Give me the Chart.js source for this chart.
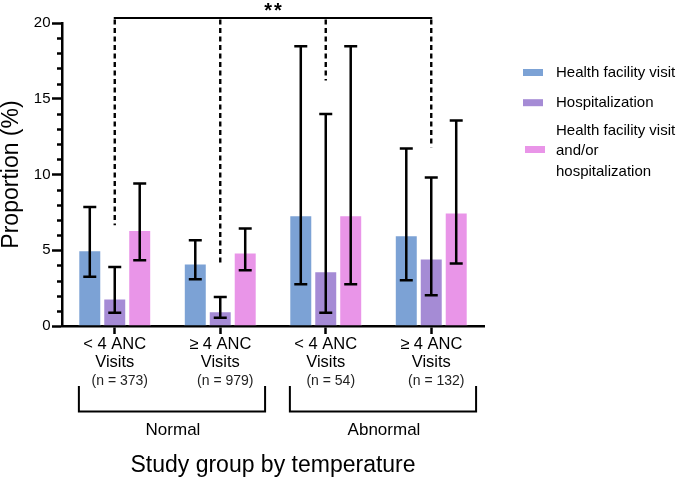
<!DOCTYPE html>
<html>
<head>
<meta charset="utf-8">
<script src="https://cdn.jsdelivr.net/npm/chart.js@4.4.1/dist/chart.umd.min.js"></script>
<style>
  html, body { margin: 0; padding: 0; background: #fff; }
  #wrap { width: 685px; height: 479px; position: relative; }
</style>
</head>
<body>
<div id="wrap"><canvas id="c"></canvas></div>
<script>
// ---- Data ----
const categories = [["< 4 ANC", "Visits"], ["≥ 4 ANC", "Visits"], ["< 4 ANC", "Visits"], ["≥ 4 ANC", "Visits"]];
const sampleSizes = ["(n = 373)", "(n = 979)", "(n = 54)", "(n = 132)"];
const groupNames = ["Normal", "Abnormal"];
const groupMembers = [[0, 1], [2, 3]];
const seriesNames = ["Health facility visit", "Hospitalization", "Health facility visit and/or hospitalization"];
const legendLines = [["Health facility visit"], ["Hospitalization"], ["Health facility visit", "and/or", "hospitalization"]];

const facilityVisit     = [5.0, 4.12, 7.31, 5.99];
const facilityVisitLow  = [3.25, 3.08, 2.75, 3.02];
const facilityVisitHigh = [7.85, 5.66, 18.46, 11.71];

const hospitalization     = [1.81, 0.97, 3.61, 4.45];
const hospitalizationLow  = [0.88, 0.55, 0.88, 2.03];
const hospitalizationHigh = [3.9, 1.91, 14.0, 9.8];

const either     = [6.33, 4.85, 7.31, 7.49];
const eitherLow  = [4.34, 3.68, 2.75, 4.12];
const eitherHigh = [9.4, 6.43, 18.46, 13.56];

const yTicks = [0, 5, 10, 15, 20];
const yMinorStep = 1;
const sigLevel = 20.33;
const sigDropEnds = [6.65, 3.96, 16.2, 11.8];
const sigLabel = "**";
const xTitle = "Study group by temperature";
const yTitle = "Proportion (%)";

const colors = ["#7ca2d5", "#a58bd5", "#e995e8"];

const seriesValues = [facilityVisit, hospitalization, either];
const seriesLow = [facilityVisitLow, hospitalizationLow, eitherLow];
const seriesHigh = [facilityVisitHigh, hospitalizationHigh, eitherHigh];

Chart.defaults.font.family = "'Liberation Sans', Arial, sans-serif";
Chart.defaults.color = "#000";

const extras = {
  id: 'extras',
  afterDatasetsDraw(chart) {
    const ctx = chart.ctx;
    const y = chart.scales.y;
    ctx.save();
    ctx.strokeStyle = '#000';
    ctx.lineWidth = 2.5;
    chart.data.datasets.forEach((ds, di) => {
      const meta = chart.getDatasetMeta(di);
      meta.data.forEach((bar, i) => {
        const x = bar.x;
        const yl = y.getPixelForValue(seriesLow[di][i]);
        const yh = y.getPixelForValue(seriesHigh[di][i]);
        ctx.beginPath();
        ctx.moveTo(x, yl); ctx.lineTo(x, yh);
        ctx.moveTo(x - 6.5, yl); ctx.lineTo(x + 6.5, yl);
        ctx.moveTo(x - 6.5, yh); ctx.lineTo(x + 6.5, yh);
        ctx.stroke();
      });
    });
    ctx.restore();
  },
  afterDraw(chart) {
    const ctx = chart.ctx;
    const xs = chart.scales.x, ys = chart.scales.y;
    const area = chart.chartArea;
    ctx.save();
    // minor y ticks
    ctx.strokeStyle = '#000';
    ctx.lineWidth = 2.5;
    for (let v = ys.min + yMinorStep; v < ys.max; v += yMinorStep) {
      if (yTicks.includes(v)) continue;
      const py = Math.round(ys.getPixelForValue(v)) + 0.5;
      ctx.beginPath(); ctx.moveTo(area.left - 5, py); ctx.lineTo(area.left, py); ctx.stroke();
    }
    // significance bracket
    const sy = ys.getPixelForValue(sigLevel);
    const x0 = xs.getPixelForValue(0), x3 = xs.getPixelForValue(categories.length - 1);
    ctx.lineWidth = 2;
    ctx.beginPath(); ctx.moveTo(x0 - 1, sy); ctx.lineTo(x3 + 1, sy); ctx.stroke();
    ctx.lineWidth = 2.4;
    ctx.setLineDash([5, 3.5]);
    sigDropEnds.forEach((v, i) => {
      const px = xs.getPixelForValue(i);
      ctx.beginPath(); ctx.moveTo(px, sy + 1.5); ctx.lineTo(px, ys.getPixelForValue(v)); ctx.stroke();
    });
    ctx.setLineDash([]);
    ctx.fillStyle = '#000';
    ctx.font = "bold 20px 'Liberation Sans', Arial, sans-serif";
    ctx.textAlign = 'center';
    ctx.textBaseline = 'alphabetic';
    try { ctx.letterSpacing = '2px'; } catch (e) {}
    ctx.fillText(sigLabel, (x0 + x3) / 2 + 1, sy - 1);
    try { ctx.letterSpacing = '0px'; } catch (e) {}
    // sample sizes
    ctx.font = "14px 'Liberation Sans', Arial, sans-serif";
    ctx.fillStyle = '#222';
    ctx.textBaseline = 'middle';
    sampleSizes.forEach((s, i) => {
      ctx.fillText(s, xs.getPixelForValue(i) + 5, area.bottom + 55);
    });
    // group brackets
    const half = (xs.right - xs.left) / categories.length / 2;
    ctx.strokeStyle = '#000';
    ctx.lineWidth = 2;
    ctx.fillStyle = '#000';
    ctx.font = "17px 'Liberation Sans', Arial, sans-serif";
    groupMembers.forEach((m, gi) => {
      const l = xs.getPixelForValue(m[0]) - 0.68 * half;
      const r = xs.getPixelForValue(m[m.length - 1]) + 0.85 * half;
      const top = area.bottom + 60, bot = area.bottom + 85.5;
      ctx.beginPath();
      ctx.moveTo(l, top); ctx.lineTo(l, bot); ctx.lineTo(r, bot); ctx.lineTo(r, top);
      ctx.stroke();
      ctx.fillText(groupNames[gi], (l + r) / 2 + 1, area.bottom + 104);
    });
    // legend
    ctx.font = "15px 'Liberation Sans', Arial, sans-serif";
    ctx.textAlign = 'left';
    const lx = area.right + 39;
    const legendY = [[72.5], [102.7], [130.5, 151, 171.5]];
    legendLines.forEach((lines, i) => {
      const ysArr = legendY[i];
      const mid = ysArr.length === 1 ? ysArr[0] : ysArr[1] - 1.5;
      ctx.fillStyle = colors[i];
      ctx.fillRect(lx + (i === 2 ? 2 : 0), mid - 3.5, 20, 7);
      ctx.fillStyle = '#000';
      lines.forEach((t, k) => ctx.fillText(t, lx + 33, ysArr[k]));
    });
    ctx.restore();
  }
};

new Chart(document.getElementById('c'), {
  type: 'bar',
  data: {
    labels: categories,
    datasets: seriesValues.map((vals, i) => ({
      label: seriesNames[i],
      data: vals,
      backgroundColor: colors[i],
      borderColor: 'rgba(255,255,255,0.6)',
      borderWidth: 1,
      categoryPercentage: 0.71,
      barPercentage: 0.92
    }))
  },
  options: {
    responsive: true,
    maintainAspectRatio: false,
    animation: false,
    layout: { padding: { left: 0, right: 201, top: 23, bottom: 0 } },
    plugins: { legend: { display: false }, tooltip: { enabled: false } },
    scales: {
      x: {
        afterFit: (s) => { s.height = 153; },
        border: { display: true, color: '#000', width: 2.5 },
        grid: { display: true, offset: false, drawOnChartArea: false, drawTicks: true, tickLength: 8, tickWidth: 2.5, tickColor: '#000' },
        ticks: { color: '#000', font: { size: 16.5, lineHeight: 1.07 }, padding: 2, maxRotation: 0, autoSkip: false },
        title: { display: true, text: xTitle, color: '#000', font: { size: 23 }, padding: 0 }
      },
      y: {
        min: 0, max: 20,
        afterFit: (s) => { s.width = 62; },
        afterBuildTicks: (s) => { s.ticks = yTicks.map(v => ({ value: v })); },
        border: { display: true, color: '#000', width: 2.5 },
        grid: { display: true, drawOnChartArea: false, drawTicks: true, tickLength: 10, tickWidth: 2.5, tickColor: '#000' },
        ticks: { color: '#000', font: { size: 15 }, padding: 1.5 },
        title: { display: true, text: yTitle, color: '#000', font: { size: 23, lineHeight: 1 }, padding: 0 }
      }
    }
  },
  plugins: [extras]
});
</script>
</body>
</html>
